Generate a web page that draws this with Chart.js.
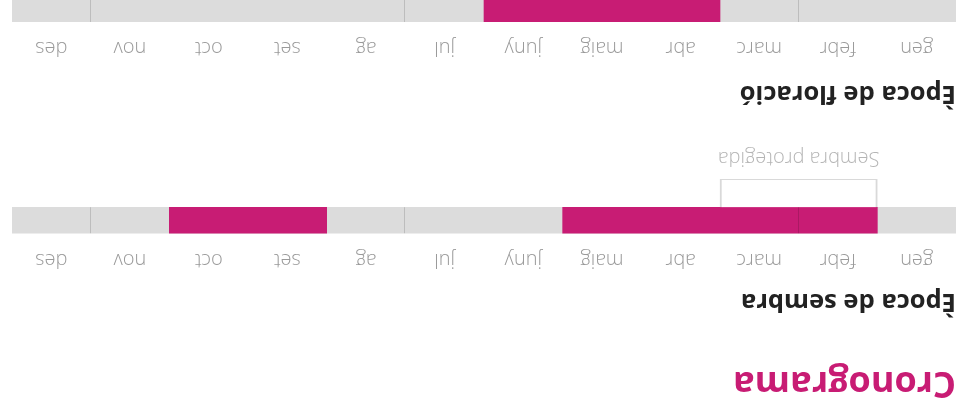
<!DOCTYPE html>
<html>
<head>
<meta charset="utf-8">
<script src="https://cdn.jsdelivr.net/npm/chart.js@4.4.1/dist/chart.umd.min.js"></script>
<style>
  html, body { margin: 0; padding: 0; background: #fff; }
  #page {
    position: relative;
    width: 956px;
    height: 406px;
    overflow: hidden;
    transform: rotate(180deg);
  }
  .h { position: absolute; left: 0; margin: 0; white-space: nowrap; line-height: 1; font-family: "Open Sans", sans-serif; font-weight: 700; }
  #title { top: 3px; font-size: 36px; color: #c81c74; }
  #h1 { top: 90px; font-size: 25.5px; color: #222; }
  #h2 { top: 298px; font-size: 25.5px; color: #222; }
  canvas { position: absolute; left: 0; }
  #cSembra { top: 130px; }
  #cFlor { top: 342px; }
</style>
</head>
<body>
<div id="page">
  <div class="h" id="title">Cronograma</div>
  <div class="h" id="h1">Època de sembra</div>
  <canvas id="cSembra" width="944" height="135"></canvas>
  <div class="h" id="h2">Època de floració</div>
  <canvas id="cFlor" width="944" height="68"></canvas>
</div>
<script>
const months = ["gen", "febr", "marc", "abr", "maig", "juny", "jul", "ag", "set", "oct", "nov", "des"];
const dividers = [2, 7, 11];
const sembraRanges = [[1, 5], [8, 10]];
const protRange = [1, 3];
const protLabel = "Sembra protegida";
const floracioRanges = [[3, 6]];

const PINK = "#c81c74";
const TRACK = "#dcdcdc";

// lines across the track at the season marks + label under the box
const extras = {
  id: "extras",
  afterDatasetsDraw(chart) {
    const ctx = chart.ctx;
    const xs = chart.scales.x;
    const bar = chart.getDatasetMeta(0).data[0];
    const top = bar.y - bar.height / 2, bottom = bar.y + bar.height / 2;
    ctx.save();
    ctx.strokeStyle = "rgba(0,0,0,0.14)";
    ctx.lineWidth = 1;
    dividers.forEach((d) => {
      const px = Math.round(xs.getPixelForValue(d)) + 0.5;
      ctx.beginPath();
      ctx.moveTo(px, top);
      ctx.lineTo(px, bottom);
      ctx.stroke();
    });
    const box = chart.data.datasets.findIndex((ds) => ds.label === "prot");
    if (box >= 0) {
      const el = chart.getDatasetMeta(box).data[1];
      ctx.fillStyle = "#b5b5b5";
      ctx.font = "300 20px 'Open Sans'";
      ctx.textAlign = "center";
      ctx.textBaseline = "middle";
      ctx.fillText(protLabel, (el.x + el.base) / 2, el.y + el.height / 2 + 21);
    }
    ctx.restore();
  }
};

function rowChart(id, rows, datasets, bottomPad) {
  return new Chart(document.getElementById(id), {
    type: "bar",
    data: { datasets },
    options: {
      indexAxis: "y",
      responsive: false,
      animation: false,
      layout: { padding: { bottom: bottomPad } },
      datasets: { bar: { grouped: false, barPercentage: 1, categoryPercentage: 1 } },
      plugins: { legend: { display: false }, tooltip: { enabled: false } },
      scales: {
        x: { type: "linear", min: 0, max: 12, display: false },
        m: {
          type: "category",
          axis: "x",
          position: "top",
          labels: months,
          offset: true,
          grid: { display: false },
          border: { display: false },
          ticks: { color: "#9a9a9a", font: { family: "'Open Sans'", size: 20, weight: 300 }, padding: 6 },
          afterFit(s) { s.height = 42; }
        },
        y: { type: "category", labels: rows, display: false }
      }
    },
    plugins: [extras]
  });
}

const sembraSets = [
  { label: "track", data: [[0, 12], null], backgroundColor: TRACK, barThickness: 26, order: 3 }
];
sembraRanges.forEach((r) => {
  sembraSets.push({ label: "sembra", data: [r, null], backgroundColor: PINK, barThickness: 26, order: 2 });
});
sembraSets.push({
  label: "prot", data: [null, protRange], backgroundColor: "#fff",
  borderColor: "#d9d9d9", borderWidth: 2, borderSkipped: "top", barThickness: 29, order: 1
});
rowChart("cSembra", ["sembra", "prot"], sembraSets, 38);

const florSets = [
  { label: "track", data: [[0, 12]], backgroundColor: TRACK, barThickness: 26, order: 3 }
];
floracioRanges.forEach((r) => {
  florSets.push({ label: "flor", data: [r], backgroundColor: PINK, barThickness: 26, order: 2 });
});
rowChart("cFlor", ["flor"], florSets, 0);
</script>
</body>
</html>
